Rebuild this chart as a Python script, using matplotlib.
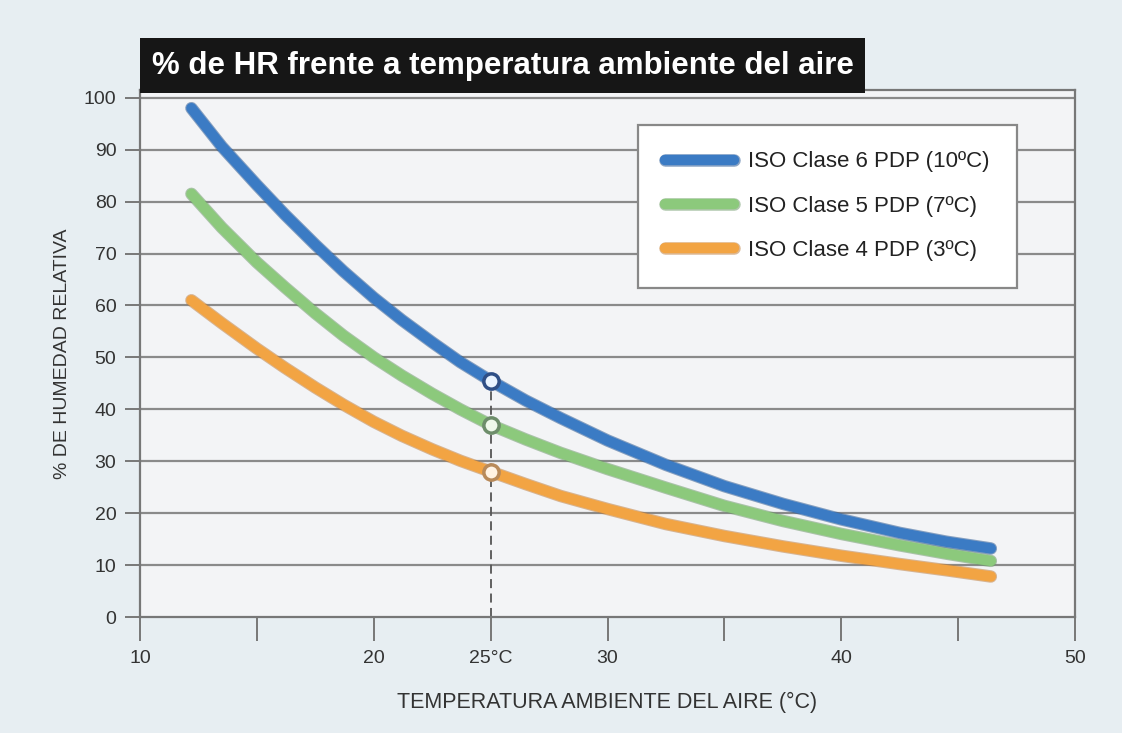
import matplotlib
matplotlib.use("Agg")
import matplotlib.pyplot as plt
import matplotlib.patheffects as pe
from matplotlib.patches import Rectangle
from matplotlib.lines import Line2D

plt.rcParams['font.family'] = ['Liberation Sans', 'DejaVu Sans']

# ---------------- data ----------------
temp = [12.2, 13.5, 15, 16.2, 17.5, 18.7, 20, 21.2, 22.5, 23.7, 25,
        26.5, 28, 30, 32.5, 35, 37.5, 40, 42.5, 44.5, 46.4]
hr_clase6 = [98, 90.6, 83.2, 77.5, 71.7, 66.6, 61.5, 57.2, 52.9, 49.1, 45.5,
             41.7, 38.3, 34, 29.3, 25.2, 21.8, 18.8, 16.2, 14.5, 13.2]
hr_clase5 = [81.5, 75, 68.3, 63.5, 58.5, 54.2, 50, 46.5, 43, 40, 37,
             34.2, 31.6, 28.5, 24.9, 21.4, 18.5, 16, 13.8, 12.2, 10.8]
hr_clase4 = [61, 56.6, 51.7, 48, 44.2, 40.9, 37.6, 34.9, 32.3, 30.1, 28,
             25.6, 23.3, 20.8, 17.9, 15.6, 13.6, 11.8, 10.2, 9, 7.8]
ref_temp = 25
ref_values = [45.5, 37, 28]

labels = ['ISO Clase 6 PDP (10ºC)', 'ISO Clase 5 PDP (7ºC)', 'ISO Clase 4 PDP (3ºC)']
colors = ['#3b7bc4', '#8cc97c', '#f2a443']
edge_colors = ['#2c5a94', '#6f9a6a', '#c08040']
marker_fill = ['#eaf4ff', '#eef8ea', '#fff3e4']
marker_edge = ['#2f4f86', '#6d8d6a', '#b88a5a']

xticks_major = [10, 15, 20, 25, 30, 35, 40, 45, 50]
xtick_labels = ['10', '', '20', '25°C', '30', '', '40', '', '50']
yticks = list(range(0, 101, 10))

# ---------------- figure ----------------
fig = plt.figure(figsize=(11.22, 7.33), dpi=100, facecolor='#e7eef2')
ax = fig.add_axes([140/1122, 1-617/733, 935/1122, 527/733])
ax.set_facecolor('#f3f4f6')
ax.set_xlim(10, 50)
ax.set_ylim(0, 101.5)

for y in yticks[1:]:
    ax.axhline(y, color='#8a8a8a', lw=1.6, zorder=1)

series = [hr_clase6, hr_clase5, hr_clase4]
ax.plot([ref_temp, ref_temp], [0, ref_values[0]], color='#555555', lw=1.3,
        dashes=(5, 3), zorder=2)

for i in range(2, -1, -1):
    ax.plot(temp, series[i], color=colors[i], lw=7.5, solid_capstyle='round',
            solid_joinstyle='round', zorder=3 + (2 - i),
            path_effects=[pe.Stroke(linewidth=9, foreground=edge_colors[i], alpha=0.55),
                          pe.Normal()])
    ax.plot([ref_temp], [ref_values[i]], marker='o', ms=11, mfc=marker_fill[i],
            mec=marker_edge[i], mew=2.5, zorder=10)

for s in ax.spines.values():
    s.set_color('#777777')
    s.set_linewidth(1.6)

ax.set_xticks(xticks_major)
ax.set_xticklabels(xtick_labels)
ax.set_yticks(yticks)
ax.tick_params(axis='x', direction='out', length=17, width=1.4, color='#777777',
               labelsize=14, labelcolor='#333333', pad=7)
ax.tick_params(axis='y', direction='out', length=11, width=1.4, color='#777777',
               labelsize=14, labelcolor='#333333', pad=6)

ax.set_xlabel('TEMPERATURA AMBIENTE DEL AIRE (°C)', fontsize=15.5, color='#333333',
              labelpad=18)
ax.set_ylabel('% DE HUMEDAD RELATIVA', fontsize=14, color='#333333', labelpad=9)

# legend
handles = [Line2D([0], [0], color=colors[i], lw=7.5, solid_capstyle='round',
                  path_effects=[pe.Stroke(linewidth=9, foreground=edge_colors[i], alpha=0.55),
                                pe.Normal()]) for i in range(3)]
leg = ax.legend(handles, labels, loc='upper left', bbox_to_anchor=(0.533, 0.934),
                fontsize=16, handlelength=3.1, handletextpad=0.65, labelspacing=1.05,
                borderpad=1.2, borderaxespad=0, fancybox=False, framealpha=1,
                edgecolor='#888888', facecolor='white')
leg.get_frame().set_linewidth(1.6)
for t in leg.get_texts():
    t.set_color('#222222')

# title box
fig.patches.append(Rectangle((140/1122, 1-93/733), 725/1122, 55/733,
                             transform=fig.transFigure, facecolor='#161616',
                             edgecolor='none', zorder=5))
fig.text(152/1122, 1-66/733, '% de HR frente a temperatura ambiente del aire',
         color='white', fontsize=22.5, fontweight='bold', va='center', ha='left', zorder=6)

fig.savefig('out.png', dpi=100, facecolor=fig.get_facecolor())
